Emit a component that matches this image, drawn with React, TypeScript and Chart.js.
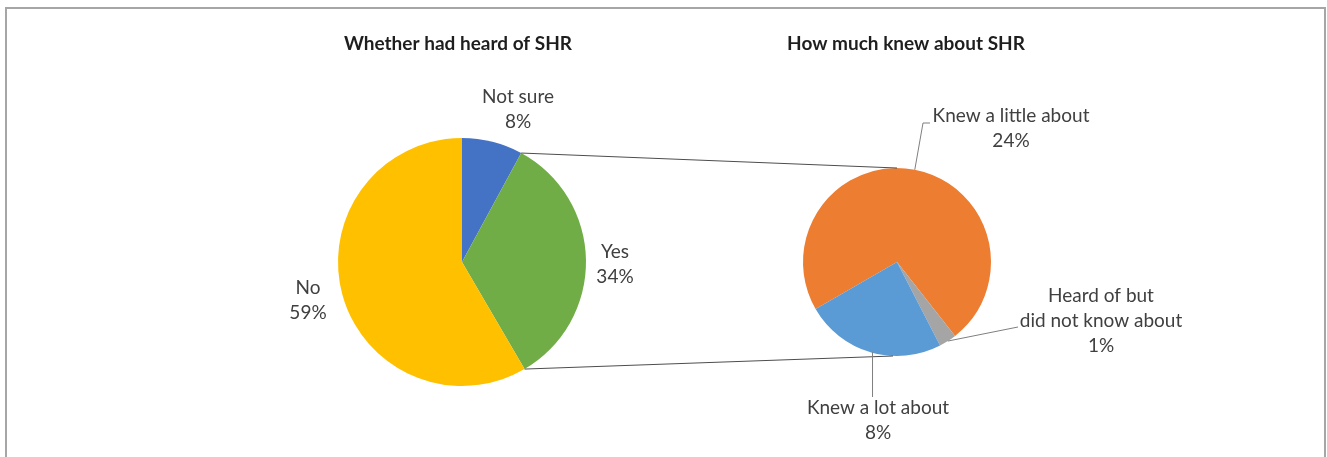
import React, { useEffect, useRef } from "react";
import { Chart, registerables } from "chart.js";

Chart.register(...registerables);

const W = 1327;
const H = 457;

// ---- data ----
const heardTitle = "Whether had heard of SHR";
const heardLabels = ["Not sure", "Yes", "No"];
const heardValues = [8, 34, 59];
const heardPct = ["8%", "34%", "59%"];
const heardColors = ["#4472C4", "#70AD47", "#FFC000"];

const knewTitle = "How much knew about SHR";
const knewLabels = ["Knew a little about", "Heard of but\ndid not know about", "Knew a lot about"];
const knewValues = [24, 1, 8];
const knewPct = ["24%", "1%", "8%"];
const knewColors = ["#ED7D31", "#A5A5A5", "#5B9BD5"];

const FONT = "Lato, 'Open Sans', sans-serif";
const LABEL_FONT = `19px ${FONT}`;
const TITLE_FONT = `bold 19px ${FONT}`;
const LABEL_COLOR = "#404040";
const LH = 25;

function drawText(ctx: CanvasRenderingContext2D, lines: string[], x: number, y: number) {
  lines.forEach((t, i) => ctx.fillText(t, x, y + i * LH));
}

function arcPoint(arc: any, frac = 0.5, rOff = 0) {
  const a = arc.startAngle + (arc.endAngle - arc.startAngle) * frac;
  const r = arc.outerRadius + rOff;
  return { x: arc.x + r * Math.cos(a), y: arc.y + r * Math.sin(a) };
}

export default function App() {
  const leftRef = useRef<HTMLCanvasElement>(null);
  const rightRef = useRef<HTMLCanvasElement>(null);

  useEffect(() => {
    // label offsets (first line centre) relative to the pie centre
    const leftOffsets = [
      { dx: 56, dy: -165 },
      { dx: 153, dy: -10 },
      { dx: -154, dy: 26 },
    ];

    const leftPlugin = {
      id: "leftLabels",
      afterDraw(chart: any) {
        const ctx = chart.ctx as CanvasRenderingContext2D;
        const arcs = chart.getDatasetMeta(0).data as any[];
        const cx = arcs[0].x;
        const cy = arcs[0].y;
        ctx.save();
        ctx.textAlign = "center";
        ctx.textBaseline = "middle";
        ctx.fillStyle = "#1e1e1e";
        ctx.font = TITLE_FONT;
        ctx.fillText(heardTitle, cx - 4, 44);
        ctx.fillStyle = LABEL_COLOR;
        ctx.font = LABEL_FONT;
        heardLabels.forEach((lab, i) => {
          const o = leftOffsets[i];
          drawText(ctx, [...lab.split("\n"), heardPct[i]], cx + o.dx, cy + o.dy);
        });
        ctx.restore();
      },
    };

    const left = new Chart(leftRef.current!, {
      type: "pie",
      data: {
        labels: heardLabels,
        datasets: [
          {
            data: heardValues,
            backgroundColor: heardColors,
            borderWidth: 0,
          },
        ],
      },
      options: {
        animation: false,
        responsive: false,
        devicePixelRatio: 1,
        events: [],
        rotation: 0,
        radius: 124,
        layout: { padding: { left: 338, right: W - 586, top: 138, bottom: H - 386 } },
        plugins: { legend: { display: false }, title: { display: false }, tooltip: { enabled: false } },
      },
      plugins: [leftPlugin],
    });

    const rightPlugin = {
      id: "rightLabels",
      afterDraw(chart: any) {
        const ctx = chart.ctx as CanvasRenderingContext2D;
        const arcs = chart.getDatasetMeta(0).data as any[];
        const cx = arcs[0].x;
        const cy = arcs[0].y;
        const r = arcs[0].outerRadius;
        ctx.save();

        // frame
        ctx.strokeStyle = "#a6a6a6";
        ctx.lineWidth = 2;
        ctx.strokeRect(6, 8, 1319, H + 20);

        // connector lines from the first pie
        const la = left.getDatasetMeta(0).data as any[];
        const pTop = arcPoint(la[0], 1);
        const pBot = arcPoint(la[1], 1);
        ctx.strokeStyle = "#4d4d4d";
        ctx.lineWidth = 1;
        ctx.beginPath();
        ctx.moveTo(pTop.x, pTop.y);
        ctx.lineTo(cx, cy - r);
        ctx.moveTo(pBot.x, pBot.y);
        ctx.lineTo(cx - 4, cy + r);
        ctx.stroke();

        // title
        ctx.textAlign = "center";
        ctx.textBaseline = "middle";
        ctx.fillStyle = "#1e1e1e";
        ctx.font = TITLE_FONT;
        ctx.fillText(knewTitle, cx + 9, 44);

        // leader lines
        ctx.strokeStyle = "#7f7f7f";
        ctx.lineWidth = 1;
        const m0 = arcPoint(arcs[0]);
        const m1 = arcPoint(arcs[1]);
        const m2 = arcPoint(arcs[2]);
        ctx.beginPath();
        ctx.moveTo(m0.x, m0.y);
        ctx.lineTo(cx + 26, cy - 139);
        ctx.lineTo(cx + 33, cy - 139);
        ctx.moveTo(m1.x, m1.y);
        ctx.lineTo(cx + 111, cy + 67);
        ctx.lineTo(cx + 121, cy + 65);
        ctx.moveTo(m2.x + 2, m2.y);
        ctx.lineTo(m2.x + 2, cy + 135);
        ctx.stroke();

        // labels
        ctx.fillStyle = LABEL_COLOR;
        ctx.font = LABEL_FONT;
        const offs = [
          { dx: 114, dy: -146 },
          { dx: 204, dy: 34 },
          { dx: -19, dy: 146 },
        ];
        knewLabels.forEach((lab, i) => {
          const o = offs[i];
          drawText(ctx, [...lab.split("\n"), knewPct[i]], cx + o.dx, cy + o.dy);
        });
        ctx.restore();
      },
    };

    const right = new Chart(rightRef.current!, {
      type: "pie",
      data: {
        labels: knewLabels,
        datasets: [
          {
            data: knewValues,
            backgroundColor: knewColors,
            borderWidth: 0,
          },
        ],
      },
      options: {
        animation: false,
        responsive: false,
        devicePixelRatio: 1,
        events: [],
        rotation: 240,
        radius: 94,
        layout: { padding: { left: 803, right: W - 991, top: 168, bottom: H - 356 } },
        plugins: { legend: { display: false }, title: { display: false }, tooltip: { enabled: false } },
      },
      plugins: [rightPlugin],
    });

    return () => {
      right.destroy();
      left.destroy();
    };
  }, []);

  return (
    <div
      style={{
        position: "absolute",
        left: 0,
        top: 0,
        width: W,
        height: H,
        background: "#ffffff",
        overflow: "hidden",
      }}
    >
      <canvas ref={leftRef} width={W} height={H} style={{ position: "absolute", left: 0, top: 0 }} />
      <canvas ref={rightRef} width={W} height={H} style={{ position: "absolute", left: 0, top: 0 }} />
    </div>
  );
}
